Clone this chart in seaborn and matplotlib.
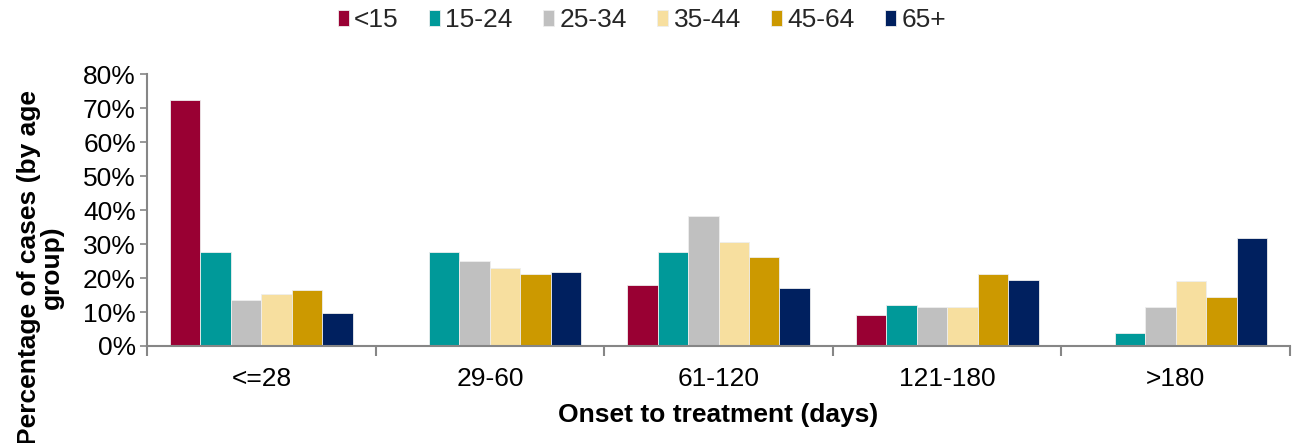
import matplotlib
matplotlib.use("Agg")
import matplotlib.pyplot as plt
import seaborn as sns
import pandas as pd
from matplotlib.ticker import PercentFormatter, FixedLocator

# onset-to-treatment bins and age groups
onset = ["<=28", "29-60", "61-120", "121-180", ">180"]
ages = ["<15", "15-24", "25-34", "35-44", "45-64", "65+"]

# percentage of cases by age group, one list per age group
lt15 = [72.6, 0.0, 18.1, 9.0, 0.0]
a15_24 = [27.8, 27.8, 27.8, 12.0, 3.9]
a25_34 = [13.5, 24.9, 38.4, 11.5, 11.5]
a35_44 = [15.3, 22.9, 30.7, 11.5, 19.2]
a45_64 = [16.6, 21.3, 26.1, 21.3, 14.3]
a65p = [9.6, 21.9, 17.0, 19.4, 31.7]

colors = ["#990033", "#009999", "#C0C0C0", "#F7DF9F", "#CC9900", "#00205F"]

rows = []
for age, vals in zip(ages, [lt15, a15_24, a25_34, a35_44, a45_64, a65p]):
    for cat, v in zip(onset, vals):
        rows.append({"Onset": cat, "Age": age, "Pct": v})
df = pd.DataFrame(rows)

sns.set_style("white")
plt.rcParams["font.family"] = ["Liberation Sans", "DejaVu Sans"]

fig = plt.figure(figsize=(12.98, 4.43), dpi=100)
ax = fig.add_axes([0.1133, 0.219, 0.8805, 0.613])

sns.barplot(data=df, x="Onset", y="Pct", hue="Age", order=onset, hue_order=ages,
            palette=colors, saturation=1, width=0.8, edgecolor="#eeeeee",
            linewidth=0.6, ax=ax)

ax.set_ylim(0, 80)
ax.set_xlim(-0.5, 4.5)
ax.yaxis.set_major_locator(FixedLocator(range(0, 81, 10)))
ax.yaxis.set_major_formatter(PercentFormatter(decimals=0))
ax.tick_params(axis="y", labelsize=19, length=5, width=1.2, color="#868686",
               direction="out", left=True, pad=3, labelcolor="black")
ax.tick_params(axis="x", which="major", labelsize=19, length=0, pad=15,
               labelcolor="black")
ax.set_xticks([i - 0.5 for i in range(6)], minor=True)
ax.tick_params(axis="x", which="minor", length=7, width=1.5, color="#868686",
               direction="out", bottom=True)

for s in ["top", "right"]:
    ax.spines[s].set_visible(False)
for s in ["left", "bottom"]:
    ax.spines[s].set_color("#868686")
    ax.spines[s].set_linewidth(1.5)

ax.set_xlabel("Onset to treatment (days)", fontsize=19, fontweight="bold",
              labelpad=9, color="black")
ax.set_ylabel("Percentage of cases (by age\ngroup)", fontsize=19, fontweight="bold",
              color="black", linespacing=0.95)
ax.yaxis.set_label_coords(-0.073, 0.29)

ax.legend(loc="center", bbox_to_anchor=(0.433, 1.2), ncol=6, frameon=False,
          fontsize=19, handlelength=0.42, handleheight=0.55, handletextpad=0.2,
          columnspacing=1.15)

fig.savefig("out.png", dpi=100)
